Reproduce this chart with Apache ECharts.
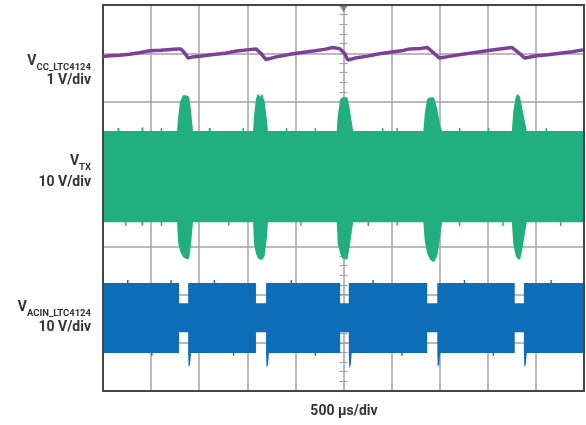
<!DOCTYPE html>
<html>
<head>
<meta charset="utf-8">
<script src="https://cdn.jsdelivr.net/npm/echarts@6/dist/echarts.min.js"></script>
<style>html,body{margin:0;padding:0;background:#fff;}#c{width:586px;height:425px;}</style>
</head>
<body>
<div id="c"></div>
<script>
// Time axis in divisions (500 µs/div), vertical axis in screen divisions
const xTicks = [0,1,2,3,4,5,6,7,8,9,10];
const yTicks = [0,1,2,3,4,5,6,7,8];

// V_CC_LTC4124 trace (1 V/div)
const vccTime = [0.00,0.15,0.35,0.55,0.75,0.98,1.20,1.40,1.54,1.62,1.70,1.77,1.85,2.02,2.25,2.54,2.75,2.99,3.18,3.28,3.39,3.50,3.58,3.89,4.10,4.41,4.60,4.78,4.93,5.02,5.09,5.24,5.50,5.75,5.97,6.20,6.38,6.60,6.74,6.86,6.99,7.17,7.40,7.70,7.98,8.25,8.50,8.63,8.77,9.02,9.25,9.50,9.75,9.98];
const vccValue = [6.93,6.95,6.96,6.98,7.01,7.05,7.06,7.08,7.09,7.09,7.00,6.90,6.92,6.94,6.97,7.00,7.04,7.07,7.09,7.00,6.87,6.90,6.92,6.98,7.01,7.05,7.08,7.12,7.09,7.00,6.86,6.90,6.94,6.99,7.02,7.05,7.09,7.10,7.12,7.02,6.90,6.93,6.97,7.01,7.05,7.09,7.12,7.02,6.90,6.95,6.97,7.00,7.03,7.07];

// V_TX envelope (10 V/div): time, upper edge, lower edge
const txTime = [
  0.00,0.30,0.30,0.34,0.34, 0.46,0.46,0.49,0.49, 0.80,0.80,0.84,0.84, 1.20,1.20,1.23,1.23,
  1.54,1.56,1.60,1.66,1.73,1.79,1.83,1.87,
  2.20,2.20,2.24,2.24, 2.60,2.60,2.63,2.63, 2.90,2.90,2.93,2.93,
  3.12,3.14,3.18,3.22,3.27,3.31,3.36,3.41,3.43,
  3.80,3.80,3.83,3.83, 4.10,4.10,4.13,4.13, 4.40,4.40,4.43,4.43,
  4.86,4.88,4.93,4.98,5.08,5.13,5.20,
  5.50,5.50,5.53,5.53, 5.80,5.80,5.83,5.83, 6.10,6.10,6.13,6.13,
  6.66,6.69,6.74,6.80,6.88,6.95,7.01,7.05,
  7.40,7.40,7.43,7.43, 8.00,8.00,8.03,8.03, 8.30,8.30,8.33,8.33,
  8.50,8.53,8.58,8.62,8.67,8.72,8.81,
  9.20,9.20,9.23,9.23, 9.50,9.50,9.53,9.53,10.00];
const txUpper = [
  5.39,5.39,5.45,5.45,5.39, 5.39,5.39,5.39,5.39, 5.39,5.46,5.46,5.39, 5.39,5.45,5.45,5.39,
  5.39,5.66,5.99,6.13,6.13,6.10,5.82,5.39,
  5.39,5.45,5.45,5.39, 5.39,5.39,5.39,5.39, 5.39,5.45,5.45,5.39,
  5.39,5.70,6.05,6.16,6.10,6.16,6.00,5.60,5.39,
  5.39,5.45,5.45,5.39, 5.39,5.39,5.39,5.39, 5.39,5.45,5.45,5.39,
  5.39,5.70,6.05,6.09,6.09,5.85,5.39,
  5.39,5.39,5.39,5.39, 5.39,5.45,5.45,5.39, 5.39,5.45,5.45,5.39,
  5.39,5.75,6.05,6.09,6.09,5.85,5.50,5.39,
  5.39,5.45,5.45,5.39, 5.39,5.45,5.45,5.39, 5.39,5.39,5.39,5.39,
  5.39,5.80,6.10,6.16,6.10,5.85,5.39,
  5.39,5.45,5.45,5.39, 5.39,5.39,5.39,5.39,5.39];
const txLower = [
  3.50,3.50,3.50,3.50,3.50, 3.50,3.42,3.42,3.50, 3.50,3.43,3.43,3.50, 3.50,3.42,3.42,3.50,
  3.50,3.09,2.90,2.78,2.73,2.74,3.03,3.50,
  3.50,3.50,3.50,3.50, 3.50,3.43,3.43,3.50, 3.50,3.50,3.50,3.50,
  3.50,3.05,2.85,2.75,2.72,2.72,2.80,3.20,3.50,
  3.50,3.50,3.50,3.50, 3.50,3.42,3.42,3.50, 3.50,3.50,3.50,3.50,
  3.50,3.05,2.85,2.74,2.72,3.00,3.50,
  3.50,3.42,3.42,3.50, 3.50,3.50,3.50,3.50, 3.50,3.43,3.43,3.50,
  3.50,3.10,2.85,2.72,2.67,2.80,3.20,3.50,
  3.50,3.42,3.42,3.50, 3.50,3.50,3.50,3.50, 3.50,3.42,3.42,3.50,
  3.50,3.05,2.80,2.74,2.72,2.95,3.50,
  3.50,3.50,3.50,3.50, 3.50,3.42,3.42,3.50,3.50];

// V_ACIN_LTC4124 envelope (10 V/div)
const acTime = [
  0.00,0.50,0.50,0.53,0.53, 1.00,1.00,1.03,1.03, 1.40,1.40,1.43,1.43,
  1.58,1.58,1.77,1.77,1.78,1.81,1.83,
  2.30,2.30,2.33,2.33, 2.70,2.70,2.73,2.73,
  3.18,3.18,3.39,3.39,3.40,3.43,3.45,
  3.90,3.90,3.93,3.93, 4.40,4.40,4.43,4.43,
  4.93,4.93,5.11,5.11,5.12,5.15,5.17,
  5.60,5.60,5.63,5.63, 6.20,6.20,6.23,6.23,
  6.74,6.74,6.95,6.95,6.96,6.99,7.01,
  7.50,7.50,7.53,7.53, 8.10,8.10,8.13,8.13,
  8.56,8.56,8.75,8.75,8.76,8.79,8.81,
  9.30,9.30,9.33,9.33,10.00];
const acUpper = [
  2.24,2.24,2.30,2.30,2.24, 2.24,2.24,2.24,2.24, 2.24,2.30,2.30,2.24,
  2.24,1.82,1.82,2.24,2.24,2.24,2.24,
  2.24,2.30,2.30,2.24, 2.24,2.24,2.24,2.24,
  2.24,1.82,1.82,2.24,2.24,2.24,2.24,
  2.24,2.30,2.30,2.24, 2.24,2.24,2.24,2.24,
  2.24,1.82,1.82,2.24,2.24,2.24,2.24,
  2.24,2.30,2.30,2.24, 2.24,2.24,2.24,2.24,
  2.24,1.82,1.82,2.24,2.24,2.24,2.24,
  2.24,2.30,2.30,2.24, 2.24,2.24,2.24,2.24,
  2.24,1.82,1.82,2.24,2.24,2.24,2.24,
  2.24,2.30,2.30,2.24,2.24];
const acLower = [
  0.79,0.79,0.79,0.79,0.79, 0.79,0.73,0.73,0.79, 0.79,0.79,0.79,0.79,
  0.79,1.22,1.22,0.79,0.50,0.55,0.79,
  0.79,0.79,0.79,0.79, 0.79,0.73,0.73,0.79,
  0.79,1.22,1.22,0.79,0.48,0.55,0.79,
  0.79,0.79,0.79,0.79, 0.79,0.73,0.73,0.79,
  0.79,1.22,1.22,0.79,0.46,0.55,0.79,
  0.79,0.79,0.79,0.79, 0.79,0.73,0.73,0.79,
  0.79,1.22,1.22,0.79,0.50,0.55,0.79,
  0.79,0.79,0.79,0.79, 0.79,0.73,0.73,0.79,
  0.79,1.22,1.22,0.79,0.50,0.55,0.79,
  0.79,0.79,0.79,0.79,0.79];

// Trigger marker at top centre
const triggerPoint = [[5, 8]];

// Channel labels
const labels = [
  { main: 'V', sub: 'CC_LTC4124', scale: '1 V/div' },
  { main: 'V', sub: 'TX', scale: '10 V/div' },
  { main: 'V', sub: 'ACIN_LTC4124', scale: '10 V/div' }
];
const xTitle = '500 µs/div';

const FONT = 'Roboto, "Noto Sans", sans-serif';
const TXT = '#333338';
const GRIDC = '#a2a2a8';

function zip(a, b) { return a.map((v, i) => [v, b[i]]); }

function band(name, t, up, lo, color) {
  return {
    type: 'custom', name, coordinateSystem: 'cartesian2d', silent: true, clip: true,
    data: [[t[0], up[0]]],
    renderItem: function (params, api) {
      const pts = [];
      for (let i = 0; i < t.length; i++) pts.push(api.coord([t[i], up[i]]));
      for (let i = t.length - 1; i >= 0; i--) pts.push(api.coord([t[i], lo[i]]));
      return { type: 'polygon', shape: { points: pts }, style: { fill: color } };
    }
  };
}

const ctx = document.createElement('canvas').getContext('2d');
function measure(text, size) { ctx.font = 'bold ' + size + 'px ' + FONT; return ctx.measureText(text).width; }

const labelRows = [
  { mainY: 61, subY: 68, scaleY: 80 },
  { mainY: 161, subY: 168, scaleY: 182 },
  { mainY: 307, subY: 314, scaleY: 327 }
];
const RIGHT = 91;
const graphics = [];
labels.forEach((l, i) => {
  const r = labelRows[i];
  const subW = measure(l.sub, 9.5);
  graphics.push({ type: 'text', x: RIGHT, y: r.subY, style: { text: l.sub, font: 'bold 9.5px ' + FONT, fill: TXT, align: 'right', verticalAlign: 'middle' } });
  graphics.push({ type: 'text', x: RIGHT - subW, y: r.mainY, style: { text: l.main, font: 'bold 14px ' + FONT, fill: TXT, align: 'right', verticalAlign: 'middle' } });
  graphics.push({ type: 'text', x: RIGHT, y: r.scaleY, style: { text: l.scale, font: 'bold 14px ' + FONT, fill: TXT, align: 'right', verticalAlign: 'middle' } });
});
graphics.push({ type: 'text', x: 344, y: 411, style: { text: xTitle, font: 'bold 14px ' + FONT, fill: TXT, align: 'center', verticalAlign: 'middle' } });

const chart = echarts.init(document.getElementById('c'), null, { renderer: 'canvas' });
const tickStyle = { color: GRIDC, width: 1.2 };
chart.setOption({
  animation: false,
  backgroundColor: '#ffffff',
  grid: { left: 103, top: 5, width: 481, height: 386, show: true, borderColor: '#45454b', borderWidth: 2, backgroundColor: 'transparent', z: 3 },
  xAxis: [
    { type: 'value', min: xTicks[0], max: xTicks[xTicks.length - 1], interval: 1,
      axisLine: { show: false }, axisTick: { show: false }, axisLabel: { show: false },
      splitLine: { show: true, lineStyle: { color: GRIDC, width: 1.5 } } },
    { type: 'value', position: 'bottom', offset: -193, min: 0, max: 10, interval: 1,
      axisLine: { show: false }, axisLabel: { show: false }, splitLine: { show: false },
      axisTick: { show: true, length: 4, inside: false, lineStyle: tickStyle },
      minorTick: { show: true, splitNumber: 5, length: 4, lineStyle: tickStyle } },
    { type: 'value', position: 'bottom', offset: -193, min: 0, max: 10, interval: 1,
      axisLine: { show: false }, axisLabel: { show: false }, splitLine: { show: false },
      axisTick: { show: true, length: 4, inside: true, lineStyle: tickStyle },
      minorTick: { show: true, splitNumber: 5, length: 4, lineStyle: tickStyle } }
  ],
  yAxis: [
    { type: 'value', min: yTicks[0], max: yTicks[yTicks.length - 1], interval: 1,
      axisLine: { show: false }, axisTick: { show: false }, axisLabel: { show: false },
      splitLine: { show: true, lineStyle: { color: GRIDC, width: 1.5 } } },
    { type: 'value', position: 'left', offset: -240.5, min: 0, max: 8, interval: 1,
      axisLine: { show: false }, axisLabel: { show: false }, splitLine: { show: false },
      axisTick: { show: true, length: 4, inside: false, lineStyle: tickStyle },
      minorTick: { show: true, splitNumber: 5, length: 4, lineStyle: tickStyle } },
    { type: 'value', position: 'left', offset: -240.5, min: 0, max: 8, interval: 1,
      axisLine: { show: false }, axisLabel: { show: false }, splitLine: { show: false },
      axisTick: { show: true, length: 4, inside: true, lineStyle: tickStyle },
      minorTick: { show: true, splitNumber: 5, length: 4, lineStyle: tickStyle } }
  ],
  series: [
    band('V_TX', txTime, txUpper, txLower, '#22af80'),
    band('V_ACIN_LTC4124', acTime, acUpper, acLower, '#0e6db7'),
    { type: 'line', name: 'V_CC_LTC4124', data: zip(vccTime, vccValue), showSymbol: false, silent: true,
      lineStyle: { color: '#7e3f99', width: 3.5 }, z: 4 },
    { type: 'scatter', data: triggerPoint, symbol: 'triangle', symbolRotate: 180, symbolSize: [8, 6], symbolOffset: [0, 4],
      itemStyle: { color: '#6e6e76' }, silent: true, z: 5 }
  ],
  graphic: graphics
});
</script>
</body>
</html>
